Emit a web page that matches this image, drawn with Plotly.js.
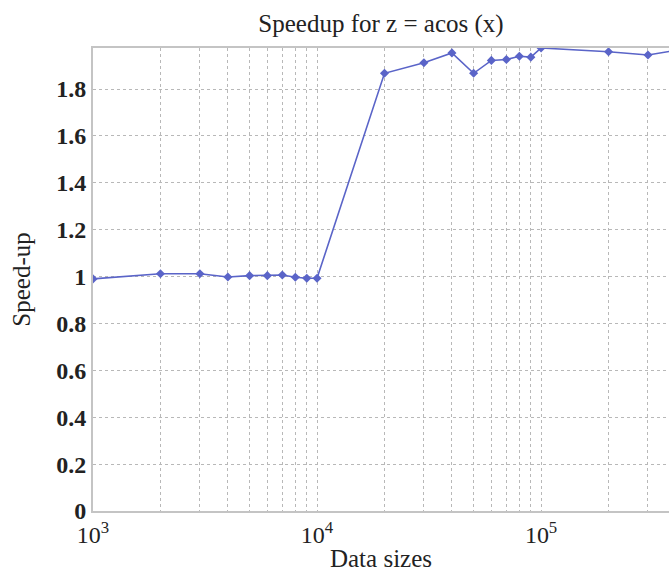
<!DOCTYPE html>
<html>
<head>
<meta charset="utf-8">
<script src="https://cdn.plot.ly/plotly-3.0.1.min.js"></script>
<style>
  html, body { margin: 0; padding: 0; background: #ffffff; }
  #chart { width: 669px; height: 572px; }
</style>
</head>
<body>
<div id="chart"></div>
<script>
// Data sizes (number of elements) and measured speed-up for z = acos(x)
const dataSizes = [
  1000, 2000, 3000, 4000, 5000, 6000, 7000, 8000, 9000, 10000,
  20000, 30000, 40000, 50000, 60000, 70000, 80000, 90000, 100000,
  200000, 300000, 400000
];
const speedup = [
  0.99, 1.012, 1.012, 0.998, 1.004, 1.004, 1.007, 0.997, 0.993, 0.993,
  1.867, 1.912, 1.954, 1.867, 1.922, 1.926, 1.940, 1.936, 1.975,
  1.959, 1.945, 1.965
];

// Axis labelling
const xTickVals = [1000, 10000, 100000];
const xTickText = ["10<sup>3</sup>", "10<sup>4</sup>", "10<sup>5</sup>"];
const yTickVals = [0, 0.2, 0.4, 0.6, 0.8, 1, 1.2, 1.4, 1.6, 1.8];
const yTickText = ["0", "0.2", "0.4", "0.6", "0.8", "1", "1.2", "1.4", "1.6", "1.8"];

const serif = "Liberation Serif, DejaVu Serif, serif";
const textColor = "#222222";
const lineColor = "#5a64c8";
const gridColor = "#b8b8b8";
const frameColor = "#c4c4c4";

const trace = {
  x: dataSizes,
  y: speedup,
  type: "scatter",
  mode: "lines+markers",
  line: { color: lineColor, width: 1.6 },
  marker: { symbol: "diamond", size: 7, color: lineColor },
  cliponaxis: true,
  hoverinfo: "x+y"
};

const layout = {
  width: 669,
  height: 572,
  margin: { l: 93, r: 0, t: 48, b: 61 },
  paper_bgcolor: "#ffffff",
  plot_bgcolor: "#ffffff",
  showlegend: false,
  font: { family: serif, color: textColor, size: 24 },
  title: {
    text: "Speedup for z = acos (x)",
    font: { family: serif, size: 25, color: textColor },
    xref: "paper", x: 0.5, xanchor: "center",
    yref: "container", y: 0.96, yanchor: "middle"
  },
  xaxis: {
    type: "log",
    range: [3, 5.571],
    tickmode: "array",
    tickvals: xTickVals,
    ticktext: xTickText,
    ticks: "",
    ticklabelstandoff: 1,
    tickfont: { family: serif, size: 24, color: textColor },
    showline: true,
    linecolor: frameColor,
    linewidth: 2,
    mirror: true,
    showgrid: true,
    gridcolor: gridColor,
    gridwidth: 1,
    griddash: "dot",
    minor: {
      dtick: "D1",
      showgrid: true,
      gridcolor: gridColor,
      gridwidth: 1,
      griddash: "dot",
      ticks: ""
    },
    zeroline: false,
    title: {
      text: "Data sizes",
      font: { family: serif, size: 25, color: textColor },
      standoff: 2
    }
  },
  yaxis: {
    range: [0, 1.975],
    tickmode: "array",
    tickvals: yTickVals,
    ticktext: yTickText,
    ticks: "",
    ticklabelstandoff: 0,
    tickfont: { family: serif, size: 24, color: textColor, weight: "bold" },
    showline: true,
    linecolor: frameColor,
    linewidth: 2,
    mirror: false,
    showgrid: true,
    gridcolor: gridColor,
    gridwidth: 1,
    griddash: "dot",
    zeroline: false,
    title: {
      text: "Speed-up",
      font: { family: serif, size: 25, color: textColor },
      standoff: 18
    }
  }
};

Plotly.newPlot("chart", [trace], layout, { displayModeBar: false, staticPlot: true });
</script>
</body>
</html>
